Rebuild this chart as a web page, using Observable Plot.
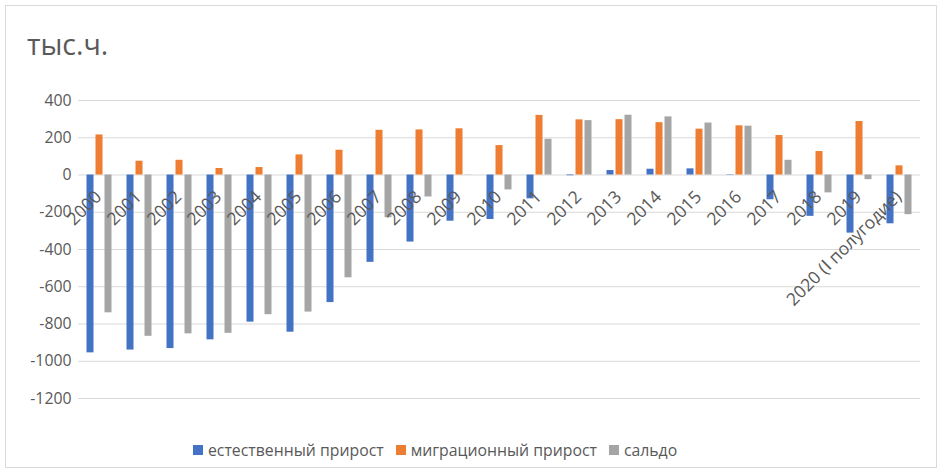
<!DOCTYPE html>
<html><head><meta charset="utf-8">
<script src="https://cdn.jsdelivr.net/npm/d3@7"></script>
<script src="https://cdn.jsdelivr.net/npm/@observablehq/plot@0.6"></script>
<style>
body{margin:0;background:#fff;font-family:"Open Sans",sans-serif;}
#frame{position:absolute;left:5px;top:5px;width:932px;height:463px;border:1px solid #d9d9d9;box-sizing:border-box;}
#title{position:absolute;left:27px;top:30px;font-size:28.5px;line-height:28px;color:#595959;}
#chart{position:absolute;left:0;top:0;}
#legend{position:absolute;top:439px;left:193px;display:flex;align-items:center;font-size:15.8px;color:#595959;white-space:nowrap;}
#legend .sw{width:10px;height:10px;display:inline-block;margin-right:5px;}
#legend .it{display:flex;align-items:center;margin-right:12px;}
</style></head>
<body>
<div id="frame"></div>
<div id="title">тыс.ч.</div>
<div id="chart"></div>
<div id="legend"></div>
<script>
const years = ["2000","2001","2002","2003","2004","2005","2006","2007","2008","2009","2010","2011","2012","2013","2014","2015","2016","2017","2018","2019","2020 (Ⅰ полугодие)"];
const natural =   [-955,-940,-932,-885,-790,-844,-685,-469,-360,-248,-239,-128,-4,24,31,33,-2,-133,-222,-312,-262];
const migration = [215,74,79,35,40,108,133,240,242,248,158,320,296,297,281,246,264,212,126,287,49];
const saldo =     [-740,-866,-853,-850,-750,-736,-552,-229,-118,-1,-80,192,292,321,312,279,262,79,-96,-25,-213];
const seriesNames = ["естественный прирост","миграционный прирост","сальдо"];
const colors = ["#4472C4","#ED7D31","#A5A5A5"];
const yTicks = [400,200,0,-200,-400,-600,-800,-1000,-1200];

const seriesValues = [natural, migration, saldo];
const offsets = [-9, 0, 9];
const barMarks = seriesValues.map((vals, s) =>
  Plot.barY(years.map((y, i) => ({year: y, value: vals[i]})), {
    x: "year", y: "value", fill: colors[s],
    insetLeft: 16.5, insetRight: 16.5, dx: offsets[s]
  })
);

const chart = Plot.plot({
  width: 944, height: 430,
  marginLeft: 78, marginRight: 24, marginTop: 100, marginBottom: 32,
  style: {fontFamily: "Open Sans, sans-serif", fontSize: "15.5px", color: "#595959", background: "transparent"},
  x: {domain: years, padding: 0, axis: null},
  y: {domain: [-1200, 400], ticks: yTicks, tickFormat: d => String(d), tickSize: 0, tickPadding: 7, label: null, grid: false},
  marks: [
    Plot.ruleY(yTicks, {stroke: "#d9d9d9", strokeWidth: 1}),
    Plot.axisY({ticks: yTicks, tickFormat: d => String(d), tickSize: 0, tickPadding: 7, label: null, fontSize: 15.8}),
    ...barMarks,
    Plot.text(years, {x: d => d, y: () => 0, text: d => d, rotate: -45, textAnchor: "end", dx: -1, dy: 19, fill: "#595959", fontSize: 17.5})
  ]
});
document.getElementById("chart").appendChild(chart);

const leg = document.getElementById("legend");
seriesNames.forEach((n, i) => {
  const it = document.createElement("div"); it.className = "it";
  const sw = document.createElement("span"); sw.className = "sw"; sw.style.background = colors[i];
  const t = document.createElement("span"); t.textContent = n;
  it.appendChild(sw); it.appendChild(t); leg.appendChild(it);
});
</script>
</body></html>
